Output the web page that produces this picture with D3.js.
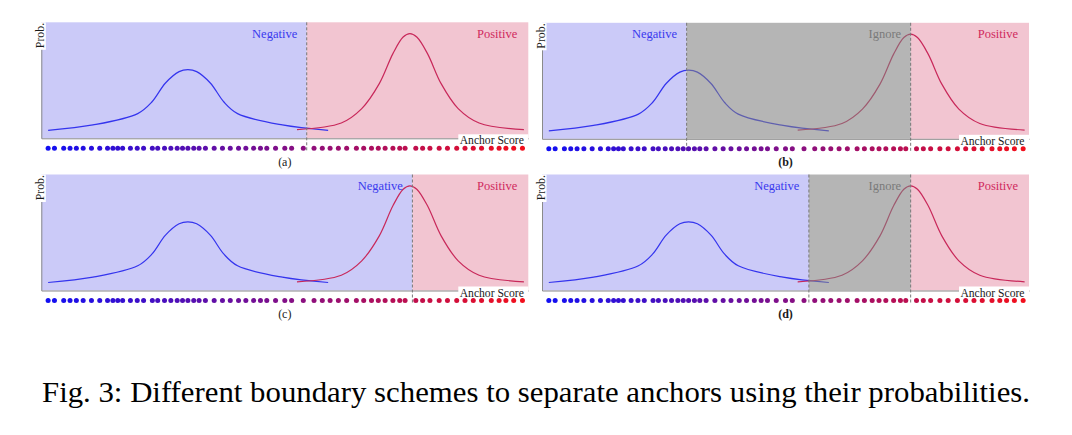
<!DOCTYPE html>
<html>
<head>
<meta charset="utf-8">
<script src="https://cdn.jsdelivr.net/npm/d3@7"></script>
<style>
  body { margin: 0; background: #fff; }
  text { font-family: "Liberation Serif", "Times New Roman", serif; }
</style>
</head>
<body>
<div id="chart-container"></div>
<script>
// data (score and prob both in 0..1)
var panelLabels = ["(a)", "(b)", "(c)", "(d)"];
var boundaries = [[0.545], [0.297, 0.757], [0.762], [0.548, 0.757]];
var regionNames = [
    ["Negative", "Positive"],
    ["Negative", "Ignore", "Positive"],
    ["Negative", "Positive"],
    ["Negative", "Ignore", "Positive"]
];

var negScore = [0.014, 0.106, 0.198, 0.227, 0.255, 0.283, 0.301, 0.319, 0.347, 0.375, 0.403, 0.495, 0.589];
var negProb  = [0.069, 0.115, 0.213, 0.313, 0.477, 0.575, 0.592, 0.575, 0.477, 0.313, 0.213, 0.115, 0.069];
var posScore = [0.525, 0.616, 0.658, 0.694, 0.722, 0.743, 0.757, 0.771, 0.793, 0.821, 0.856, 0.899, 0.991];
var posProb  = [0.075, 0.132, 0.256, 0.471, 0.730, 0.873, 0.902, 0.873, 0.730, 0.471, 0.256, 0.132, 0.075];

var anchorScores = [0.014, 0.027, 0.046, 0.059, 0.072, 0.086, 0.103, 0.120, 0.136, 0.147, 0.157, 0.167,
    0.183, 0.197, 0.210, 0.228, 0.239, 0.253, 0.266, 0.279, 0.290, 0.301, 0.313, 0.324, 0.337,
    0.355, 0.372, 0.388, 0.405, 0.420, 0.436, 0.450, 0.463, 0.481, 0.500, 0.514, 0.538, 0.560,
    0.577, 0.593, 0.610, 0.627, 0.647, 0.662, 0.678, 0.692, 0.706, 0.722, 0.736, 0.747, 0.769,
    0.783, 0.798, 0.817, 0.834, 0.853, 0.870, 0.887, 0.904, 0.924, 0.940, 0.954, 0.970, 0.988];

var caption = "Fig. 3: Different boundary schemes to separate anchors using their probabilities.";

var svgWidth = 1072;
var svgHeight = 435;
var panelLeft = [41.3, 542, 41.3, 542];
var panelTop = [22.3, 22.8, 174.5, 174.5];
var width = 487;
var height = 116;

var regionFill = { "Negative": "#cbcaf8", "Positive": "#f2c5d1" };
var labelColor = { "Negative": "#3a3aee", "Ignore": "#7a7a7a", "Positive": "#d02a5e" };

var svg = d3.select('#chart-container')
    .append('svg')
    .attr('width', svgWidth)
    .attr('height', svgHeight);

var x = d3.scaleLinear().domain([0, 1]).range([0, width]);
var y = d3.scaleLinear().domain([0, 1]).range([height, 0]);
var dotColor = d3.interpolateRgb("rgb(15,15,245)", "rgb(245,15,25)");

var line = d3.line()
    .x(function(d) { return x(d[0]); })
    .y(function(d) { return y(d[1]); })
    .curve(d3.curveCatmullRom.alpha(0.5));

var negCurve = negScore.map(function(s, i) { return [s, negProb[i]]; });
var posCurve = posScore.map(function(s, i) { return [s, posProb[i]]; });

panelLabels.forEach(function(label, p) {
    var g = svg.append('g')
        .attr('transform', 'translate(' + panelLeft[p] + ',' + panelTop[p] + ')');

    var edges = [0].concat(boundaries[p]).concat([1]);
    var regions = regionNames[p].map(function(name, i) {
        return { name: name, x0: edges[i], x1: edges[i + 1] };
    });

    // coloured regions
    g.selectAll(".region")
        .data(regions.filter(function(r) { return r.name !== "Ignore"; }))
        .enter().append("rect")
        .attr("class", "region")
        .attr("x", function(r) { return x(r.x0); })
        .attr("y", 0)
        .attr("width", function(r) { return x(r.x1) - x(r.x0); })
        .attr("height", height)
        .style("fill", function(r) { return regionFill[r.name]; });

    // probability curves
    g.append("path").datum(negCurve)
        .attr("fill", "none").attr("stroke", "#3434ee").attr("stroke-width", 1.2)
        .attr("d", line);
    g.append("path").datum(posCurve)
        .attr("fill", "none").attr("stroke", "#c8285a").attr("stroke-width", 1.2)
        .attr("d", line);

    // ignore band is a translucent grey over the curves
    g.selectAll(".ignore")
        .data(regions.filter(function(r) { return r.name === "Ignore"; }))
        .enter().append("rect")
        .attr("class", "ignore")
        .attr("x", function(r) { return x(r.x0); })
        .attr("y", 0)
        .attr("width", function(r) { return x(r.x1) - x(r.x0); })
        .attr("height", height)
        .style("fill", "#808080")
        .style("opacity", 0.58);

    // axes
    g.append('g')
        .attr('transform', 'translate(0,' + height + ')')
        .call(d3.axisBottom(x).tickValues([]).tickSizeOuter(0));
    g.append('g')
        .call(d3.axisLeft(y).tickValues([]).tickSizeOuter(0));
    g.selectAll(".domain").attr("stroke", "#8a8a8a").attr("stroke-width", 1);

    // boundaries
    g.selectAll(".boundary")
        .data(boundaries[p])
        .enter().append("line")
        .attr("class", "boundary")
        .attr("x1", function(d) { return x(d); })
        .attr("x2", function(d) { return x(d); })
        .attr("y1", 0)
        .attr("y2", height + 13)
        .attr("stroke", "#777")
        .attr("stroke-width", 1)
        .attr("stroke-dasharray", "3,2");

    // region names, right aligned in each region
    g.selectAll(".region-label")
        .data(regions)
        .enter().append("text")
        .attr("class", "region-label")
        .attr("x", function(r) { return x(r.x1) - (r.x1 === 1 ? 11 : 9.5); })
        .attr("y", 15.5)
        .attr("text-anchor", "end")
        .style("font-size", "12.5px")
        .style("fill", function(r) { return labelColor[r.name]; })
        .text(function(r) { return r.name; });

    // axis titles on white boxes
    g.append("rect")
        .attr("x", -6).attr("y", 0).attr("width", 10.5).attr("height", 27.5)
        .style("fill", "#fff");
    g.append("text")
        .attr("transform", "translate(2.8,0.6) rotate(-90)")
        .attr("text-anchor", "end")
        .style("font-size", "11.8px")
        .style("fill", "#1a1a1a")
        .text("Prob.");

    g.append("rect")
        .attr("x", width - 70).attr("y", height - 4).attr("width", 70).attr("height", 12)
        .style("fill", "#fff");
    g.append("text")
        .attr("x", width - 4.5)
        .attr("y", height + 6)
        .attr("text-anchor", "end")
        .style("font-size", "11.6px")
        .style("fill", "#1a1a1a")
        .text("Anchor Score");

    // anchors
    g.selectAll(".dot")
        .data(anchorScores)
        .enter().append("circle")
        .attr("class", "dot")
        .attr("cx", function(d) { return x(d); })
        .attr("cy", height + 10)
        .attr("r", 2.5)
        .style("fill", function(d) { return dotColor(d); });

    g.append("text")
        .attr("x", width / 2)
        .attr("y", height + 27.5)
        .attr("text-anchor", "middle")
        .style("font-size", "12px")
        .style("font-weight", p % 2 === 1 ? "bold" : "normal")
        .style("fill", "#1a1a1a")
        .text(label);
});

svg.append("text")
    .attr("x", 536)
    .attr("y", 402)
    .attr("text-anchor", "middle")
    .attr("textLength", 988)
    .attr("lengthAdjust", "spacingAndGlyphs")
    .style("font-size", "29px")
    .style("fill", "#000")
    .text(caption);
</script>
</body>
</html>
